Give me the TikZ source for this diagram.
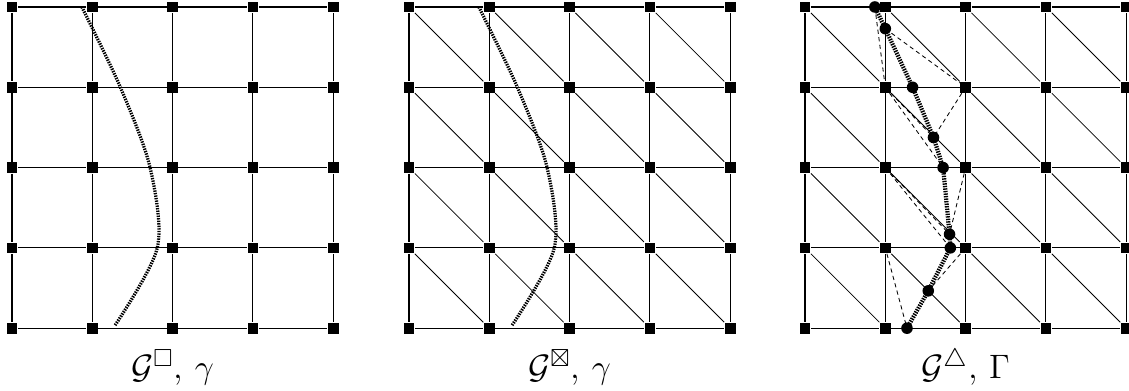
\documentclass[tikz,border=0pt]{standalone}
\usepackage{amssymb}
\tikzset{
  vtx/.style={rectangle, fill=black, inner sep=0pt, minimum size=3.8pt},
  gedge/.style={line width=0.4pt},
  diag/.style={line width=0.3pt},
  pt/.style={circle, fill=black, inner sep=0pt, minimum size=4.1pt},
  curvestyle/.style={line width=1.15pt, dash pattern=on 0.5pt off 0.4pt},
  pathstyle/.style={line width=1.5pt, dash pattern=on 0.5pt off 0.4pt},
  aux/.style={line width=0.3pt, dash pattern=on 1.5pt off 1.2pt},
  lab/.style={anchor=base, inner sep=0pt, font=\fontsize{12.5}{14}\selectfont}
}
\begin{document}
\begin{tikzpicture}
\useasboundingbox (0,0) rectangle (14.06,4.869);
% vertices
\foreach \g/\x in {A/0.149, B/5.093, C/10.025} {
  \foreach \i in {0,...,4} {
    \foreach \j in {0,...,4} {
      \node[vtx] (\g-\i-\j) at (\x+\i, 4.782-\j) {};
    }
  }
}
% grid edges
\foreach \g in {A,B,C} {
  \foreach \i in {0,...,3} {
    \pgfmathtruncatemacro\ii{\i+1}
    \foreach \j in {0,...,4} {
      \draw[gedge] (\g-\i-\j) -- (\g-\ii-\j);
      \draw[gedge] (\g-\j-\i) -- (\g-\j-\ii);
    }
  }
}
% diagonals
\foreach \g in {B,C} {
  \foreach \i in {0,...,3} {
    \pgfmathtruncatemacro\ii{\i+1}
    \foreach \j in {0,...,3} {
      \pgfmathtruncatemacro\jj{\j+1}
      \draw[diag] (\g-\i-\j) -- (\g-\ii-\jj);
    }
  }
}
% curves gamma
\draw[curvestyle, shift={(0.149,4.782)}] plot[smooth] coordinates {(0.87,0) (1.35,-1) (1.72,-2) (1.81,-3) (1.28,-3.97)};
\draw[curvestyle, shift={(5.093,4.782)}] plot[smooth] coordinates {(0.87,0) (1.35,-1) (1.72,-2) (1.81,-3) (1.28,-3.97)};
% Gamma points
\begin{scope}[shift={(10.025,4.782)}]
  \coordinate (c1) at (0.87,0);
  \coordinate (c2) at (1,-0.27);
  \coordinate (c3) at (1.34,-1);
  \coordinate (c4) at (1.60,-1.625);
  \coordinate (c5) at (1.72,-2);
  \coordinate (c6) at (1.80,-2.83);
  \coordinate (c7) at (1.81,-3);
  \coordinate (c8) at (1.535,-3.535);
  \coordinate (c9) at (1.27,-4);
\end{scope}
\draw[aux] (c1) -- (C-1-1);
\draw[aux] (c2) -- (C-2-1);
\draw[aux] (C-2-1) -- (c4);
\draw[aux] (C-1-1) -- (c4);
\draw[aux] (C-1-1) -- (c5);
\draw[aux] (C-2-2) -- (c6);
\draw[aux] (C-1-2) -- (c6);
\draw[aux] (C-1-2) -- (c7);
\draw[aux] (C-2-3) -- (c8);
\draw[aux] (C-1-3) -- (c9);
\draw[pathstyle] (c1) -- (c2) -- (c3) -- (c4) -- (c5) -- (c6) -- (c7) -- (c8) -- (c9);
\foreach \k in {1,...,9} { \node[pt] (p\k) at (c\k) {}; }
% labels
\node[lab] (labA) at (2.149,0.15) {$\mathcal{G}^{\square}$, $\gamma$};
\node[lab] (labB) at (7.093,0.15) {$\mathcal{G}^{\boxtimes}$, $\gamma$};
\node[lab] (labC) at (12.025,0.15) {$\mathcal{G}^{\triangle}$, $\Gamma$};
\end{tikzpicture}
\end{document}
